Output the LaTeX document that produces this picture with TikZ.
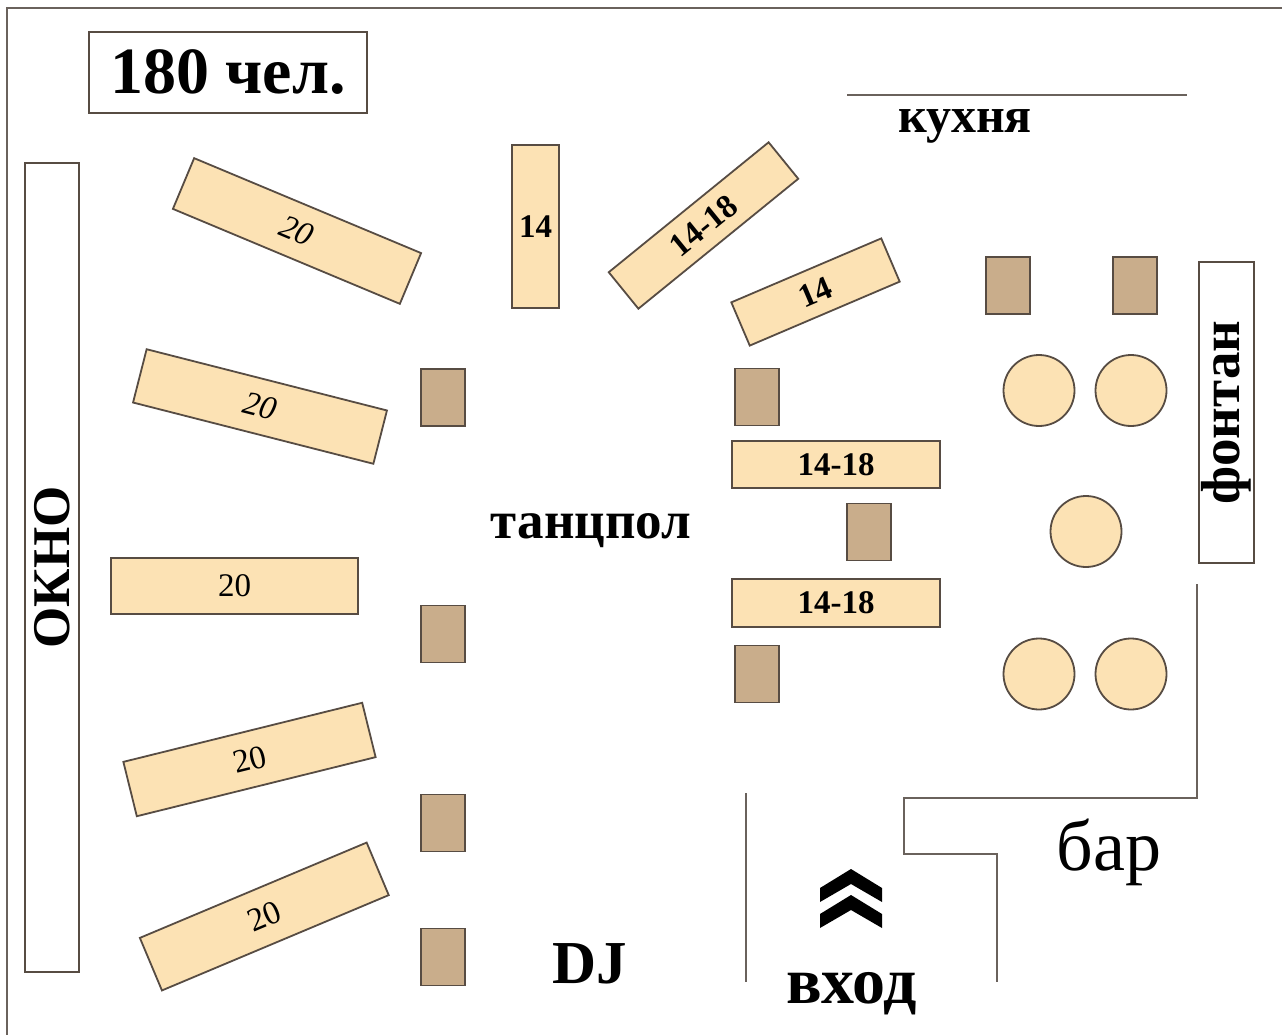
\documentclass[tikz,border=0pt]{standalone}
\usepackage{fontspec}
\setmainfont{Liberation Serif}
\usepackage{tikz}
\definecolor{edge}{HTML}{574C43}
\definecolor{wallgray}{HTML}{6A625C}
\definecolor{tablefill}{HTML}{FCE2B4}
\definecolor{chairfill}{HTML}{C9AD8B}

\begin{document}
\begin{tikzpicture}[x=1pt,y=-1pt]
  \tikzstyle{tbl}=[draw=edge,fill=tablefill,line width=1.8pt,inner sep=0pt,font=\fontsize{33}{36}\selectfont]
  \tikzstyle{chair}=[draw=edge,fill=chairfill,line width=1.8pt,minimum width=44pt,minimum height=57pt,inner sep=0pt]
  \tikzstyle{seat}=[circle,draw=edge,fill=tablefill,line width=1.8pt,minimum size=71pt,inner sep=0pt]
  \tikzstyle{wall}=[draw=wallgray,line width=2.2pt]
  \tikzstyle{roomtext}=[inner sep=0pt,anchor=base,font=\bfseries\fontsize{50}{54}\selectfont]
  \tikzstyle{frame}=[draw=edge,fill=white,line width=1.8pt,inner sep=0pt]

  \fill[white] (0,0) rectangle (1282,1035);
  \useasboundingbox (0,0) rectangle (1282,1035);
  \draw[wall] (7,1035) -- (7,8) -- (1282,8);

  \path (228,72.5) node[frame,minimum width=278pt,minimum height=81pt,font=\bfseries\fontsize{66}{70}\selectfont] (count) {180 чел.};
  \path (52,567.5) node[frame,rotate=90,minimum width=809pt,minimum height=54pt,font=\bfseries\fontsize{53}{58}\selectfont] (window) {ОКНО};
  \path (1226.5,412.5) node[frame,rotate=90,minimum width=301pt,minimum height=55pt,font=\bfseries\fontsize{55}{60}\selectfont] (fountain) {фонтан};

  \path (297,231) node[tbl,rotate=-22.7,minimum width=246pt,minimum height=55pt] (t1) {\itshape 20};
\path (260,406.5) node[tbl,rotate=-14.3,minimum width=248pt,minimum height=55pt] (t2) {\itshape 20};
\path (234.5,586) node[tbl,minimum width=247pt,minimum height=56pt] (t3) {20};
\path (249.5,759.5) node[tbl,rotate=13.9,minimum width=246pt,minimum height=56pt] (t4) {20};
\path (264.3,916.5) node[tbl,rotate=22.8,minimum width=246pt,minimum height=57pt] (t5) {20};
  \path (535.5,226.5) node[tbl,minimum width=47pt,minimum height=163pt] (t6) {\bfseries 14};
\path (703.5,225.5) node[tbl,rotate=39.1,minimum width=206pt,minimum height=47pt] (t7) {\bfseries 14-18};
\path (815.5,292) node[tbl,rotate=23.1,minimum width=163pt,minimum height=47pt] (t8) {\bfseries 14};
\path (836,464.5) node[tbl,minimum width=208pt,minimum height=47pt] (t9) {\bfseries 14-18};
\path (836,603) node[tbl,minimum width=208pt,minimum height=48pt] (t10) {\bfseries 14-18};

  \foreach \y/\n in {397.5/1,634/2,823/3,957/4}
    \path (443,\y) node[chair] (cl\n) {};
  \path (757,397) node[chair] (cr1) {};
\path (869,532) node[chair] (cr2) {};
\path (757,674) node[chair] (cr3) {};
\path (1008,285.5) node[chair] (cb1) {};
\path (1135,285.5) node[chair] (cb2) {};

  \path (1039,390.5) node[seat] (s1) {};
\path (1131,390.5) node[seat] (s2) {};
\path (1086,531.5) node[seat] (s3) {};
\path (1039,674) node[seat] (s4) {};
\path (1131,674) node[seat] (s5) {};

  \draw[wall] (847,95) -- (1187,95);
  \draw[wall] (746,793) -- (746,982);
  \draw[wall] (1197,584) -- (1197,798) -- (904,798) -- (904,854) -- (997,854) -- (997,982);

  \fill[black] (851,869) -- (882,888) -- (882,902) -- (851,884) -- (820,902) -- (820,888) -- cycle;
  \fill[black] (851,895) -- (882,914) -- (882,928) -- (851,910) -- (820,928) -- (820,914) -- cycle;

  \path (965,133) node[roomtext] (kitchen) {кухня};
  \path (591,538) node[roomtext,font=\bfseries\fontsize{53}{58}\selectfont] (dance) {танцпол};
  \path (590,983) node[roomtext,font=\bfseries\fontsize{61}{66}\selectfont] (dj) {DJ};
  \path (1109,870) node[roomtext,font=\fontsize{72}{76}\selectfont] (bar) {бар};
  \path (851.5,1003) node[roomtext,font=\bfseries\fontsize{66}{70}\selectfont] (entry) {вход};
\end{tikzpicture}
\end{document}
